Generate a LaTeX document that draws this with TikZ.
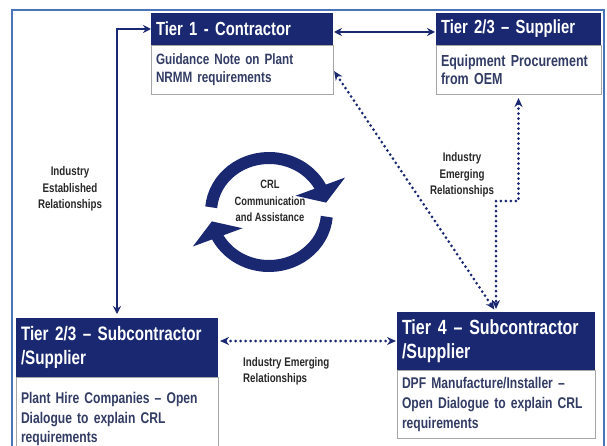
\documentclass[tikz,border=0pt]{standalone}
\usepackage{fontspec}
\setmainfont{Liberation Sans}[FakeStretch=0.78]
\usetikzlibrary{arrows.meta,bending,calc}

\definecolor{navy}{RGB}{25,40,112}
\definecolor{bodytext}{RGB}{50,60,100}
\definecolor{frameblue}{RGB}{75,115,185}
\definecolor{labeltext}{RGB}{40,40,40}

\newcommand\fsz[2]{\fontsize{#1}{#2}\selectfont}

\begin{document}
\begin{tikzpicture}[x=1pt,y=1pt,
  header/.style={anchor=north west, fill=navy, text=white, align=left,
    inner xsep=5pt, inner ysep=0pt, outer sep=0pt},
  bodybox/.style={anchor=north west, draw=gray!70, line width=0.8pt, fill=white,
    text=bodytext, align=left, inner xsep=5pt, inner ysep=0pt, outer sep=0pt},
  lbl/.style={text=labeltext, align=center, inner sep=0pt,
    font=\bfseries\fsz{12.5}{16.5}},
  solidlink/.style={draw=navy, line width=2pt,
    {Stealth[length=8pt,width=8pt]}-{Stealth[length=8pt,width=8pt]}},
  dotlink/.style={draw=navy, line width=3pt, line cap=round,
    dash pattern=on 0pt off 5pt,
    {Stealth[length=9pt,width=8pt]}-{Stealth[length=9pt,width=8pt]}},
  cyc/.style={draw=navy, line width=12pt,
    -{Triangle[length=17pt,width=52pt,flex]}}
]
\useasboundingbox (0,0) rectangle (607,445);
\fill[white] (0,0) rectangle (607,445);

% outer frame
\draw[frameblue, line width=2pt] (12,435) rectangle (604,-10);

% Tier 1
\node[header, minimum height=32pt, text width=172pt,
  font=\bfseries\fsz{19}{22}] (t1h) at (151,432) {Tier 1 - Contractor};
\node[bodybox, minimum height=49pt, text width=172pt,
  font=\bfseries\fsz{15}{18}] (t1b) at (t1h.south west)
  {Guidance Note on Plant\\NRMM requirements};

% Tier 2/3 supplier
\node[header, minimum height=32pt, text width=155pt,
  font=\bfseries\fsz{19}{22}] (t2h) at (436,432) {Tier 2/3 -- Supplier};
\node[bodybox, minimum height=49pt, text width=155pt,
  font=\bfseries\fsz{16}{18}] (t2b) at (t2h.south west)
  {Equipment Procurement\\from OEM};

% Tier 2/3 subcontractor
\node[header, minimum height=59pt, text width=192pt,
  font=\bfseries\fsz{19.5}{24}] (subh) at (16,127)
  {Tier 2/3 -- Subcontractor\\/Supplier};
\node[bodybox, minimum height=84pt, text width=192pt,
  font=\bfseries\fsz{15.5}{19.5}] (subb) at (subh.south west)
  {Plant Hire Companies -- Open\\Dialogue to explain CRL\\requirements};

% Tier 4
\node[header, minimum height=58pt, text width=188pt,
  font=\bfseries\fsz{20.5}{24}] (t4h) at (397,133)
  {Tier 4 -- Subcontractor\\/Supplier};
\node[bodybox, minimum height=68pt, text width=188pt,
  font=\bfseries\fsz{15.5}{20}] (t4b) at (t4h.south west)
  {DPF Manufacture/Installer --\\Open Dialogue to explain CRL\\requirements};

% labels
\node[lbl] (estlbl) at (70,256) {Industry\\Established\\Relationships};
\node[lbl] (emglbl) at (462,270) {Industry\\Emerging\\Relationships};
\node[lbl, anchor=west, align=left] (botlbl) at (243,73.5)
  {Industry Emerging\\Relationships};
\node[lbl, font=\bfseries\fsz{12}{16.5}] (crl) at (270,244)
  {CRL\\Communication\\and Assistance};

% solid links
\draw[solidlink, shorten <=1pt, shorten >=1pt]
  ([yshift=-3pt]t1h.east) -- ([yshift=-3pt]t2h.west);
\draw[solidlink, shorten <=4pt] (subh.north) |- (t1h.west);

% dotted links
\draw[dotlink, shorten <=2pt, shorten >=3pt] (t1b.east) -- (t4h.north);
\draw[dotlink, shorten <=4pt, shorten >=3pt]
  (t2b.south) -- ++(0,-107) -| (t4h.north);
\draw[dotlink, shorten <=2pt, shorten >=1pt]
  (subh.east |- t4h.west) -- (t4h.west);

% communication cycle
\draw[cyc] (269,233) ++(175:58 and 54)
  arc[start angle=175, end angle=10, x radius=58, y radius=54];
\draw[cyc] (269,233) ++(-5:58 and 54)
  arc[start angle=-5, end angle=-170, x radius=58, y radius=54];
\end{tikzpicture}
\end{document}
